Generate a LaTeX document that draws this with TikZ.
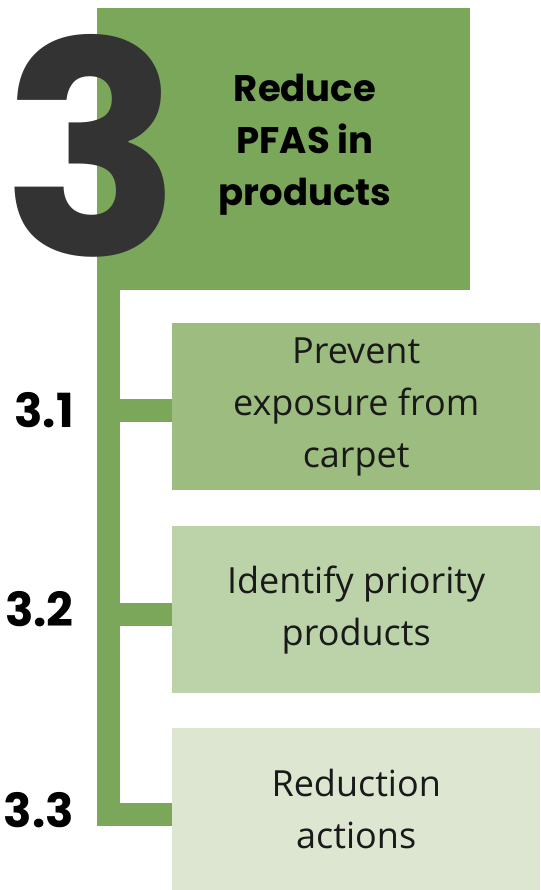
\documentclass[tikz,border=0pt]{standalone}
\usepackage{fontspec}
\setmainfont{Open Sans}
\newfontfamily\headfont{Poppins}
\usetikzlibrary{positioning}
\definecolor{leafdark}{HTML}{7BA75A}
\definecolor{leafmid}{HTML}{9DBD80}
\definecolor{leaflight}{HTML}{BCD2A8}
\definecolor{leafpale}{HTML}{DCE6D0}
\definecolor{inkgrey}{HTML}{333333}

\begin{document}
\begin{tikzpicture}[
      x=1pt,y=-1pt,
      goalbox/.style={fill=leafdark,minimum width=373pt,minimum height=282pt,
        anchor=north west,inner sep=0pt},
      actbox/.style={minimum width=368pt,anchor=north west,inner sep=0pt,
        align=center,text=black!90,font=\fontsize{36}{52}\selectfont},
      link/.style={draw=leafdark,line width=23pt},
      numlabel/.style={anchor=east,inner sep=0pt,
        font=\headfont\bfseries\fontsize{47}{47}\selectfont}
      ]
      \useasboundingbox (0,0) rectangle (540,890);
      % goal
      \node[goalbox] (goal) at (97,8) {};
      \node[align=center,font=\headfont\bfseries\fontsize{37}{52}\selectfont]
        (title) at (305,145) {Reduce\\PFAS in\\products};
      \node[inner sep=0pt,text=inkgrey,font=\headfont\bfseries\fontsize{296}{296}\selectfont]
        (three) at (92,146) {3};
      % actions
      \node[actbox,fill=leafmid,minimum height=167pt] (act1) at (172,323)
        {Prevent\\exposure from\\carpet};
      \node[actbox,fill=leaflight,minimum height=167pt] (act2) at (172,526)
        {Identify priority\\products};
      \node[actbox,fill=leafpale,minimum height=162pt] (act3) at (172,728)
        {Reduction\\actions};
      % tree
      \coordinate (barTop) at ([xshift=11.5pt]goal.south west);
      \coordinate (j1) at ([yshift=-4pt]act1.west);
      \coordinate (j2) at ([yshift=-5pt]act2.west);
      \coordinate (j3) at ([yshift=-5pt]act3.west);
      \draw[link] (barTop) |- (j3);
      \draw[link] (j1) -- (j1 -| barTop);
      \draw[link] (j2) -- (j2 -| barTop);
      % numbers
      \node[numlabel] (n1) at (74,410) {3.1};
      \node[numlabel] (n2) at (74,609) {3.2};
      \node[numlabel] (n3) at (74,810) {3.3};
    \end{tikzpicture}
\end{document}
